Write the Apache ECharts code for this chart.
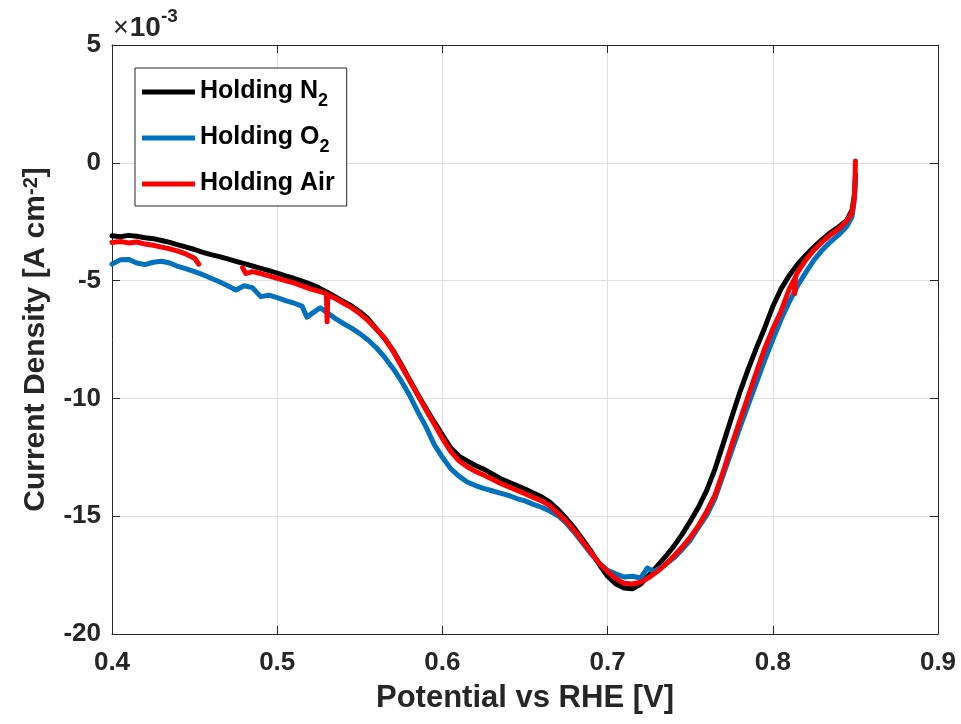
<!DOCTYPE html>
<html><head><meta charset="utf-8">
<script src="https://cdn.jsdelivr.net/npm/echarts@6/dist/echarts.min.js"></script>
<style>html,body{margin:0;padding:0;background:#fff}#c{width:961px;height:724px}</style>
</head><body><div id="c"></div>
<script>
// ---- data (current density in units of 1e-3 A cm^-2) ----
const seriesNames = ['Holding N2', 'Holding O2', 'Holding Air'];
const xTickLabels = ['0.4', '0.5', '0.6', '0.7', '0.8', '0.9'];
const yTickLabels = ['-20', '-15', '-10', '-5', '0', '5'];

const n2V = [0.400,0.405,0.410,0.415,0.420,0.425,0.430,0.435,0.440,0.445,0.450,0.455,0.460,0.465,0.470,0.475,0.480,0.485,0.490,0.495,0.500,0.505,0.510,0.515,0.520,0.525,0.530,0.535,0.540,0.545,0.550,0.555,0.560,0.565,0.570,0.575,0.580,0.585,0.590,0.595,0.600,0.605,0.610,0.615,0.620,0.625,0.630,0.635,0.640,0.645,0.650,0.655,0.660,0.665,0.670,0.675,0.680,0.685,0.690,0.695,0.700,0.705,0.710,0.715,0.720,0.725,0.730,0.735,0.740,0.745,0.750,0.755,0.760,0.765,0.770,0.775,0.780,0.785,0.790,0.795,0.800,0.805,0.810,0.815,0.820,0.825,0.830,0.835,0.840,0.845,0.848,0.8495,0.850];
const n2J = [-3.10,-3.14,-3.08,-3.12,-3.18,-3.22,-3.30,-3.38,-3.48,-3.58,-3.68,-3.80,-3.90,-3.98,-4.08,-4.18,-4.28,-4.38,-4.48,-4.58,-4.68,-4.80,-4.90,-5.02,-5.15,-5.30,-5.48,-5.68,-5.88,-6.08,-6.32,-6.62,-7.05,-7.45,-7.95,-8.55,-9.20,-9.82,-10.42,-11.00,-11.55,-12.10,-12.45,-12.65,-12.85,-13.00,-13.20,-13.40,-13.55,-13.70,-13.85,-14.02,-14.18,-14.40,-14.72,-15.10,-15.52,-16.00,-16.50,-17.05,-17.55,-17.88,-18.05,-18.08,-17.88,-17.50,-17.12,-16.72,-16.28,-15.78,-15.22,-14.62,-13.90,-13.00,-11.92,-10.82,-9.75,-8.78,-7.88,-7.02,-6.10,-5.35,-4.78,-4.30,-3.92,-3.56,-3.25,-2.96,-2.72,-2.42,-2.00,-1.30,-0.50];

const o2V = [0.400,0.405,0.410,0.415,0.420,0.425,0.430,0.435,0.440,0.445,0.450,0.455,0.460,0.465,0.470,0.475,0.480,0.485,0.490,0.495,0.500,0.505,0.510,0.515,0.518,0.522,0.526,0.530,0.535,0.540,0.545,0.550,0.555,0.560,0.565,0.570,0.575,0.580,0.585,0.590,0.595,0.600,0.605,0.610,0.615,0.620,0.625,0.630,0.635,0.640,0.645,0.650,0.655,0.660,0.665,0.670,0.675,0.680,0.685,0.690,0.695,0.700,0.705,0.710,0.715,0.720,0.724,0.728,0.735,0.740,0.745,0.750,0.755,0.760,0.765,0.770,0.775,0.780,0.785,0.790,0.795,0.800,0.805,0.810,0.815,0.820,0.825,0.830,0.835,0.840,0.845,0.848,0.8495,0.850];
const o2J = [-4.30,-4.12,-4.10,-4.25,-4.32,-4.22,-4.18,-4.25,-4.40,-4.50,-4.62,-4.75,-4.90,-5.05,-5.22,-5.40,-5.22,-5.30,-5.68,-5.62,-5.72,-5.85,-5.95,-6.08,-6.55,-6.35,-6.15,-6.35,-6.60,-6.82,-7.02,-7.25,-7.52,-7.85,-8.25,-8.72,-9.25,-9.85,-10.55,-11.20,-11.95,-12.50,-12.98,-13.30,-13.55,-13.70,-13.82,-13.92,-14.02,-14.12,-14.25,-14.35,-14.50,-14.62,-14.78,-14.98,-15.30,-15.70,-16.15,-16.60,-17.00,-17.30,-17.45,-17.58,-17.55,-17.62,-17.20,-17.35,-17.05,-16.78,-16.42,-16.02,-15.48,-14.95,-14.25,-13.25,-12.25,-11.25,-10.30,-9.35,-8.40,-7.50,-6.65,-5.90,-5.22,-4.65,-4.12,-3.70,-3.35,-3.05,-2.68,-2.28,-1.50,-0.70];

const airV = [0.400,0.405,0.410,0.415,0.420,0.425,0.430,0.435,0.440,0.445,0.450,0.4525,0.466,0.479,0.481,0.485,0.490,0.495,0.500,0.505,0.510,0.515,0.520,0.525,0.5298,0.5302,0.5306,0.535,0.540,0.545,0.550,0.555,0.560,0.565,0.570,0.575,0.580,0.585,0.590,0.595,0.600,0.605,0.610,0.615,0.620,0.625,0.630,0.635,0.640,0.645,0.650,0.655,0.660,0.665,0.670,0.675,0.680,0.685,0.690,0.695,0.700,0.705,0.710,0.715,0.720,0.725,0.730,0.735,0.740,0.745,0.750,0.755,0.760,0.765,0.770,0.775,0.780,0.785,0.790,0.795,0.800,0.805,0.810,0.813,0.8133,0.8137,0.815,0.820,0.825,0.830,0.835,0.840,0.845,0.848,0.8493,0.8498,0.850];
const airJ = [-3.38,-3.34,-3.40,-3.36,-3.45,-3.50,-3.58,-3.65,-3.75,-3.88,-4.05,-4.30,null,-4.45,-4.70,-4.62,-4.70,-4.80,-4.90,-5.00,-5.10,-5.22,-5.35,-5.45,-5.55,-6.75,-5.60,-5.75,-5.95,-6.15,-6.40,-6.70,-7.05,-7.45,-7.98,-8.60,-9.22,-9.85,-10.48,-11.08,-11.70,-12.25,-12.65,-12.90,-13.10,-13.25,-13.42,-13.60,-13.75,-13.90,-14.05,-14.20,-14.35,-14.55,-14.88,-15.22,-15.62,-16.08,-16.55,-17.00,-17.35,-17.65,-17.85,-17.88,-17.80,-17.60,-17.35,-17.05,-16.70,-16.32,-15.90,-15.40,-14.80,-14.10,-13.10,-12.00,-10.95,-9.92,-8.90,-7.90,-7.05,-6.30,-5.35,-4.95,-5.55,-4.85,-4.65,-4.12,-3.70,-3.35,-3.05,-2.80,-2.45,-2.10,-1.50,-0.80,0.08];

// ---- chart ----
const FONT = '"Liberation Sans", Arial, Helvetica, sans-serif';
const AX = '#262626';
function pairs(v, j) { return v.map((x, i) => [x, j[i] === null ? '-' : j[i]]); }

const chart = echarts.init(document.getElementById('c'), null, {renderer: 'canvas'});

function secondaryAxis(pos, min, max, interval) {
  return {
    type: 'value', position: pos, min: min, max: max, interval: interval,
    axisLine: {show: true, onZero: false, lineStyle: {color: AX, width: 1}},
    axisTick: {show: true, inside: true, length: 8, lineStyle: {color: AX, width: 1}},
    axisLabel: {show: false}, splitLine: {show: false}
  };
}

const option = {
  animation: false,
  backgroundColor: '#ffffff',
  grid: {left: 112, right: 23, top: 45, bottom: 90, containLabel: false},
  xAxis: [{
    type: 'value', position: 'bottom', min: 0.4, max: 0.9, interval: 0.1,
    axisLine: {show: true, onZero: false, lineStyle: {color: AX, width: 1}},
    axisTick: {show: true, inside: true, length: 8, lineStyle: {color: AX, width: 1}},
    axisLabel: {margin: 16, fontSize: 26, fontWeight: 'bold', color: AX, fontFamily: FONT,
      formatter: (v, i) => xTickLabels[i]},
    splitLine: {show: true, lineStyle: {color: '#dfdfdf', width: 1}},
    name: 'Potential vs RHE [V]', nameLocation: 'middle', nameGap: 44,
    nameTextStyle: {fontSize: 31, fontWeight: 'bold', color: AX, fontFamily: FONT, lineHeight: 36}
  }, secondaryAxis('top', 0.4, 0.9, 0.1)],
  yAxis: [{
    type: 'value', position: 'left', min: -20, max: 5, interval: 5,
    axisLine: {show: true, onZero: false, lineStyle: {color: AX, width: 1}},
    axisTick: {show: true, inside: true, length: 8, lineStyle: {color: AX, width: 1}},
    axisLabel: {margin: 11, fontSize: 26, fontWeight: 'bold', color: AX, fontFamily: FONT,
      formatter: (v, i) => yTickLabels[i]},
    splitLine: {show: true, lineStyle: {color: '#dfdfdf', width: 1}},
    name: '{t|Current Density [A cm}{s|-2}{t|]}', nameLocation: 'middle', nameGap: 57,
    nameTextStyle: {
      fontFamily: FONT, fontWeight: 'bold', color: AX,
      rich: {
        t: {fontSize: 30, fontWeight: 'bold', lineHeight: 34, verticalAlign: 'top', fontFamily: FONT, color: AX},
        s: {fontSize: 20, fontWeight: 'bold', lineHeight: 14, verticalAlign: 'top', fontFamily: FONT, color: AX}
      }
    }
  }, secondaryAxis('right', -20, 5, 5)],
  legend: {
    show: true, left: 135, top: 68, orient: 'vertical', selectedMode: false,
    data: seriesNames, icon: 'rect', itemWidth: 53, itemHeight: 5, itemGap: 15,
    padding: [11, 7, 4, 7], backgroundColor: '#ffffff', borderColor: AX, borderWidth: 1, borderRadius: 0,
    formatter: name => {
      const m = name.match(/^(.*?)(\d)$/);
      return m ? '{a|' + m[1] + '}{s|' + m[2] + '}' : '{a|' + name + '}{s| }';
    },
    textStyle: {
      fontFamily: FONT, fontWeight: 'bold', color: '#000',
      rich: {
        a: {fontSize: 25, fontWeight: 'bold', lineHeight: 26, verticalAlign: 'top', fontFamily: FONT, color: '#000'},
        s: {fontSize: 18, fontWeight: 'bold', lineHeight: 16, verticalAlign: 'top', padding: [13, 0, 0, 0], fontFamily: FONT, color: '#000'}
      }
    }
  },
  graphic: [{
    type: 'text', left: 113, top: 6, silent: true,
    style: {
      text: '{x|×}{b|10}{s|-3}',
      rich: {
        x: {fontSize: 27, fontWeight: 'normal', fontFamily: FONT, fill: AX, lineHeight: 24, verticalAlign: 'top', padding: [9, 1, 0, 0]},
        b: {fontSize: 28, fontWeight: 'bold', fontFamily: FONT, fill: AX, lineHeight: 28, verticalAlign: 'top', padding: [8, 0, 0, 0]},
        s: {fontSize: 19, fontWeight: 'bold', fontFamily: FONT, fill: AX, lineHeight: 19, verticalAlign: 'top', padding: [1, 0, 0, 0]}
      }
    }
  }],
  series: [
    {name: seriesNames[0], type: 'line', data: pairs(n2V, n2J), showSymbol: false, symbol: 'none', connectNulls: false,
      lineStyle: {width: 5, color: '#000000', cap: 'round', join: 'round'}, itemStyle: {color: '#000000'}, silent: true, z: 2},
    {name: seriesNames[1], type: 'line', data: pairs(o2V, o2J), showSymbol: false, symbol: 'none', connectNulls: false,
      lineStyle: {width: 5, color: '#0072BD', cap: 'round', join: 'round'}, itemStyle: {color: '#0072BD'}, silent: true, z: 3},
    {name: seriesNames[2], type: 'line', data: pairs(airV, airJ), showSymbol: false, symbol: 'none', connectNulls: false,
      lineStyle: {width: 5, color: '#FF0000', cap: 'round', join: 'round'}, itemStyle: {color: '#FF0000'}, silent: true, z: 4}
  ]
};
chart.setOption(option);
</script>
</body></html>
